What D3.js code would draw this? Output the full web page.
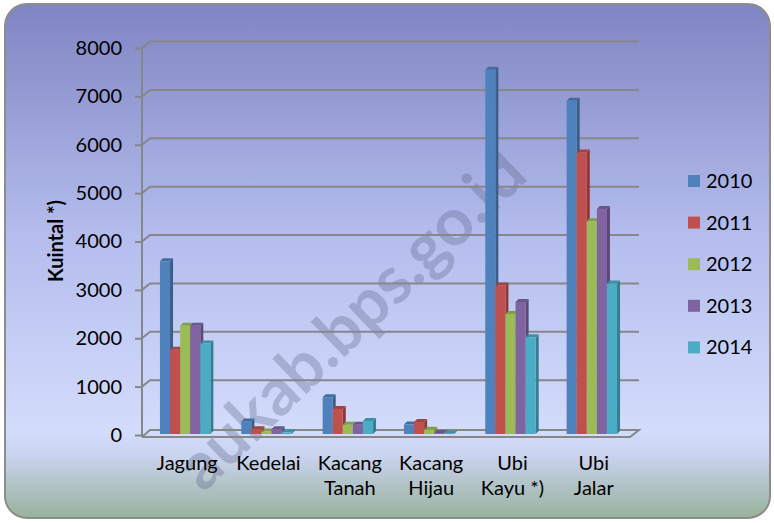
<!DOCTYPE html>
<html>
<head>
<meta charset="utf-8">
<script src="https://cdn.jsdelivr.net/npm/d3@7"></script>
<style>
  body { margin: 0; background: #fff; }
  text { font-family: Lato, "Open Sans", sans-serif; fill: #000; }
</style>
</head>
<body>
<div id="chart"></div>
<script>
var categories = ["Jagung", "Kedelai", "Kacang\nTanah", "Kacang\nHijau", "Ubi\nKayu *)", "Ubi\nJalar"];
var years = ["2010", "2011", "2012", "2013", "2014"];
var v2010 = [3590, 280, 780, 215, 7550, 6910];
var v2011 = [1760, 120, 540, 270, 3090, 5840];
var v2012 = [2260, 70, 210, 110, 2500, 4420];
var v2013 = [2260, 120, 210, 40, 2750, 4670];
var v2014 = [1890, 55, 290, 25, 2020, 3130];
var yTicks = [0, 1000, 2000, 3000, 4000, 5000, 6000, 7000, 8000];
var colors = ["#4f81bd", "#c0504d", "#9bbb59", "#8064a2", "#4bacc6"];

var series = [v2010, v2011, v2012, v2013, v2014];

var W = 774, H = 523;
var wallX = 8, wallY = 6.5;    // depth of the back wall
var barDx = 3, barDy = 3;      // depth of each bar

var svg = d3.select("#chart").append("svg")
    .attr("width", W)
    .attr("height", H);

var defs = svg.append("defs");
var grad = defs.append("linearGradient")
    .attr("id", "bg")
    .attr("gradientUnits", "userSpaceOnUse")
    .attr("x1", 0).attr("y1", 4).attr("x2", 0).attr("y2", 518);
[[0, "#7f85c2"], [0.45, "#b4bded"], [0.83, "#d3dcfb"], [0.88, "#c9d3ee"], [1, "#98b29b"]]
    .forEach(s => grad.append("stop").attr("offset", s[0]).attr("stop-color", s[1]));

defs.append("clipPath").attr("id", "frame")
    .append("rect")
    .attr("x", 5).attr("y", 4)
    .attr("width", 765).attr("height", 514)
    .attr("rx", 22).attr("ry", 22);

svg.append("rect")
    .attr("x", 5).attr("y", 4)
    .attr("width", 765).attr("height", 514)
    .attr("rx", 22).attr("ry", 22)
    .attr("fill", "url(#bg)");

var y = d3.scaleLinear()
    .domain([0, 8000])
    .range([435, 48]);

var x = d3.scaleBand()
    .domain(categories)
    .range([144.5, 632.5])
    .paddingInner(0.38)
    .paddingOuter(0.19);

var xYear = d3.scaleBand()
    .domain(years)
    .range([0, x.bandwidth()]);

// watermark
svg.append("g").attr("clip-path", "url(#frame)")
    .append("text")
    .attr("transform", "translate(530,178) rotate(-44)")
    .attr("text-anchor", "end")
    .style("font-size", "66px")
    .style("font-weight", "bold")
    .style("fill", "rgba(90,95,135,0.32)")
    .text("aukab.bps.go.id");

svg.append("rect")
    .attr("x", 5).attr("y", 4)
    .attr("width", 765).attr("height", 514)
    .attr("rx", 22).attr("ry", 22)
    .attr("fill", "none")
    .attr("stroke", "#8c8c8c")
    .attr("stroke-width", 2);

// gridlines with 3D wall
var grid = svg.append("g");
yTicks.filter(d => d > 0).forEach(function(t) {
    var yy = y(t);
    grid.append("path")
        .attr("d", "M142," + yy + "L" + (142 + wallX) + "," + (yy - wallY) + "L639," + (yy - wallY))
        .attr("fill", "none")
        .attr("stroke", "#878787")
        .attr("stroke-width", 2);
});

// floor
var y0 = y(0);
grid.append("path")
    .attr("d", "M142," + (y0 + 2) + "L630," + (y0 + 2) + "L639," + (y0 - 5) + "L150," + (y0 - 5) + "L142," + (y0 + 2))
    .attr("fill", "none")
    .attr("stroke", "#878787")
    .attr("stroke-width", 2);

// left axis
svg.append("line")
    .attr("x1", 142).attr("x2", 142)
    .attr("y1", y(8000)).attr("y2", y0 + 2)
    .attr("stroke", "#878787")
    .attr("stroke-width", 2);

var yAxis = svg.append("g")
    .attr("transform", "translate(142,0)")
    .call(d3.axisLeft(y).tickValues(yTicks).tickSize(7).tickPadding(13).tickFormat(d3.format("d")));
yAxis.select(".domain").remove();
yAxis.selectAll("line").attr("stroke", "#878787").attr("stroke-width", 2);
yAxis.selectAll("text")
    .style("font-size", "20px")
    .style("font-family", "Lato, sans-serif")
    .attr("fill", "#000");

// bars
var groups = svg.append("g").selectAll("g")
    .data(categories)
    .enter()
    .append("g")
    .attr("transform", d => "translate(" + x(d) + ",0)");

groups.each(function(cat, ci) {
    var g = d3.select(this);
    years.forEach(function(yr, si) {
        var v = series[si][ci];
        var bx = xYear(yr), bw = xYear.bandwidth();
        var top = y(v), bot = y(0) - 1;
        var c = d3.color(colors[si]);
        g.append("polygon")
            .attr("points", [[bx + bw, top], [bx + bw + barDx, top - barDy], [bx + bw + barDx, bot - barDy], [bx + bw, bot]].join(" "))
            .attr("fill", c.darker(0.9));
        g.append("polygon")
            .attr("points", [[bx, top], [bx + barDx, top - barDy], [bx + bw + barDx, top - barDy], [bx + bw, top]].join(" "))
            .attr("fill", c.darker(0.5));
        g.append("rect")
            .attr("x", bx).attr("y", top)
            .attr("width", bw).attr("height", bot - top)
            .attr("fill", colors[si]);
    });
});

// category labels
var xAxis = svg.append("g")
    .attr("transform", "translate(2,470)")
    .call(d3.axisBottom(x).tickSize(0).tickPadding(0));
xAxis.select(".domain").remove();
xAxis.selectAll("text")
    .style("font-size", "20px")
    .style("font-family", "Lato, sans-serif")
    .attr("fill", "#000")
    .attr("dy", null)
    .attr("y", 0)
    .each(function(d) {
        var t = d3.select(this);
        var lines = d.split("\n");
        t.text(null);
        lines.forEach(function(l, i) {
            t.append("tspan").attr("x", 0).attr("y", i * 25).text(l);
        });
    });

// axis title
svg.append("text")
    .attr("transform", "translate(63,241) rotate(-90)")
    .attr("text-anchor", "middle")
    .style("font-size", "20px")
    .style("font-weight", "bold")
    .text("Kuintal *)");

// legend
var legend = svg.append("g").selectAll("g")
    .data(years)
    .enter()
    .append("g")
    .attr("transform", (d, i) => "translate(688," + (181 + i * 41.6) + ")");

legend.append("rect")
    .attr("x", 0).attr("y", -6)
    .attr("width", 12).attr("height", 12)
    .attr("fill", (d, i) => colors[i]);

legend.append("text")
    .attr("x", 18)
    .attr("dy", "0.35em")
    .style("font-size", "20px")
    .text(d => d);
</script>
</body>
</html>
